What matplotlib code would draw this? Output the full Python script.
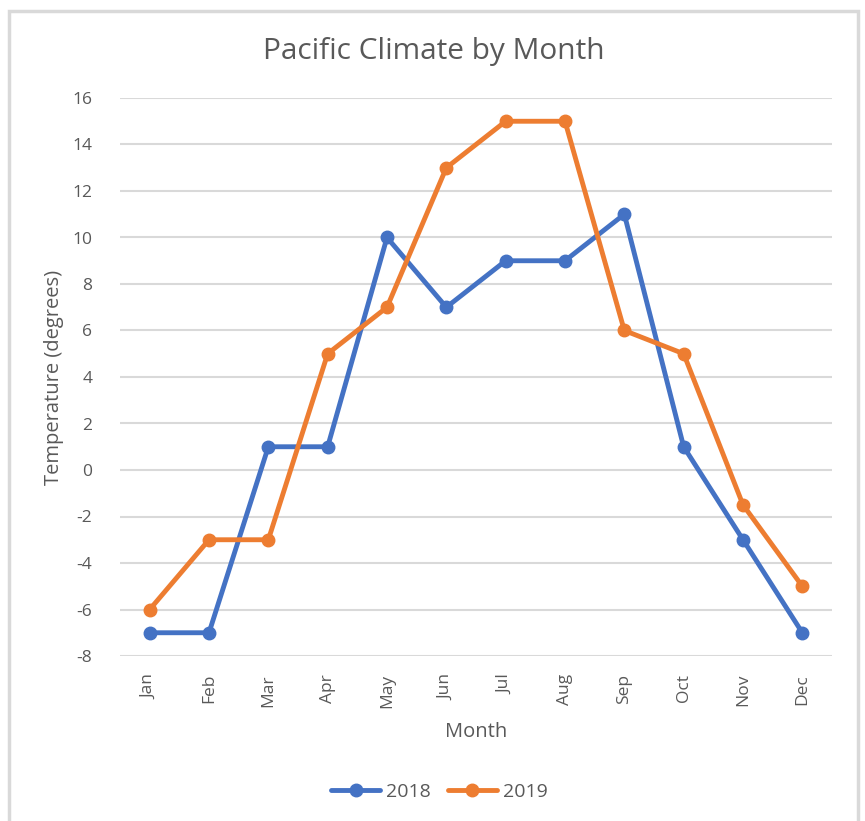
import matplotlib.pyplot as plt
from matplotlib.patches import Rectangle
import numpy as np

months = ["Jan", "Feb", "Mar", "Apr", "May", "Jun",
          "Jul", "Aug", "Sep", "Oct", "Nov", "Dec"]
temp_2018 = [-7, -7, 1, 1, 10, 7, 9, 9, 11, 1, -3, -7]
temp_2019 = [-6, -3, -3, 5, 7, 13, 15, 15, 6, 5, -1.5, -5]

blue = "#4472C4"
orange = "#ED7D31"
txt = "#595959"

plt.rcParams["font.family"] = ["Open Sans", "DejaVu Sans"]
plt.rcParams["axes.unicode_minus"] = False

fig = plt.figure(figsize=(8.65, 8.21), dpi=100)
ax = fig.add_axes([120 / 865, 1 - 656 / 821, 712 / 865, 558 / 821])

# chart frame like the spreadsheet chart area (runs off the bottom)
W, H = 865, 821
fig.patches.append(Rectangle((9 / W, -0.05), (858 - 9) / W, (H - 11) / H + 0.05,
                             transform=fig.transFigure, fill=False,
                             edgecolor="#D9D9D9", linewidth=2.5))

x = np.arange(len(months))
ax.plot(x, temp_2018, color=blue, lw=3.5, marker="o", ms=9, label="2018",
        solid_capstyle="round", zorder=3)
ax.plot(x, temp_2019, color=orange, lw=3.5, marker="o", ms=9, label="2019",
        solid_capstyle="round", zorder=3)

ax.set_xlim(-0.5, 11.5)
ax.set_ylim(-8, 16)
ax.set_yticks(range(-8, 17, 2))
ax.set_xticks(x)
ax.set_xticklabels(months, rotation=90)
ax.grid(axis="y", color="#D9D9D9", lw=1.5)
ax.set_axisbelow(True)
for s in ax.spines.values():
    s.set_visible(False)
ax.tick_params(length=0, colors=txt, labelsize=12.5)
ax.tick_params(axis="y", pad=20)
ax.tick_params(axis="x", pad=13)

ax.set_xlabel("Month", color=txt, fontsize=14.5, labelpad=10)
ax.set_ylabel("Temperature (degrees)", color=txt, fontsize=14.5, labelpad=6)
fig.text(0.502, 1 - 51 / 821, "Pacific Climate by Month",
         ha="center", va="center", fontsize=21.5, color=txt)

fig.legend(loc="center", bbox_to_anchor=(0.508, 1 - 792 / 821), ncol=2,
           frameon=False, fontsize=14, labelcolor=txt, handlelength=2.5,
           columnspacing=0.9, handletextpad=0.3)

fig.savefig("out.png", dpi=100)
